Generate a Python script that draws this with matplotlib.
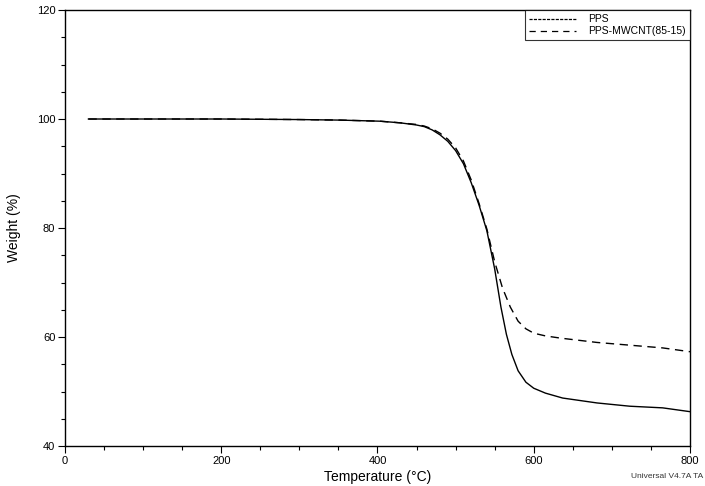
import matplotlib
matplotlib.use("Agg")
from matplotlib import pyplot as plt
from matplotlib.lines import Line2D
from matplotlib.ticker import MultipleLocator

# PPS
pps_temp = [30, 100, 200, 300, 352, 403, 429, 450, 460, 470, 480, 490, 500, 510,
            520, 530, 540, 550, 558, 565, 572, 580, 590, 600, 615, 637, 681, 723,
            765, 800]
pps_weight = [100.0, 100.0, 100.0, 99.9, 99.8, 99.6, 99.3, 98.9, 98.6, 98.0, 97.1,
              95.9, 94.2, 91.8, 88.3, 84.2, 79.5, 72.5, 65.5, 60.5, 56.8, 53.8,
              51.7, 50.6, 49.7, 48.8, 47.9, 47.3, 47.0, 46.3]

# PPS-MWCNT (85-15)
cnt_temp = [30, 100, 200, 300, 352, 403, 429, 450, 460, 470, 480, 490, 500, 510,
            520, 530, 540, 550, 560, 570, 580, 590, 600, 615, 634, 681, 723, 765,
            800]
cnt_weight = [100.0, 100.0, 100.0, 99.9, 99.8, 99.6, 99.3, 99.0, 98.7, 98.2, 97.4,
              96.3, 94.7, 92.3, 88.8, 84.5, 79.8, 73.8, 69.0, 65.5, 62.9, 61.5,
              60.7, 60.2, 59.8, 59.0, 58.5, 58.0, 57.3]

plt.rcParams["font.family"] = ["Liberation Sans", "DejaVu Sans"]

fig = plt.figure(figsize=(7.05, 4.86), dpi=100)
ax = fig.add_axes([0.0922, 0.0823, 0.8865, 0.8971])

ax.plot(pps_temp, pps_weight, color="black", linestyle="-", linewidth=1.0)
ax.plot(cnt_temp, cnt_weight, color="black", linestyle=(0, (6, 4)), linewidth=1.0)

ax.set_xlim(0, 800)
ax.set_ylim(40, 120)
ax.xaxis.set_major_locator(MultipleLocator(200))
ax.xaxis.set_minor_locator(MultipleLocator(50))
ax.yaxis.set_major_locator(MultipleLocator(20))
ax.yaxis.set_minor_locator(MultipleLocator(5))
ax.tick_params(which="major", length=5, width=0.8, labelsize=8, pad=2)
ax.tick_params(which="minor", length=3, width=0.8)
for s in ax.spines.values():
    s.set_linewidth(1.0)

ax.set_xlabel("Temperature (°C)", fontsize=10, labelpad=3)
ax.set_ylabel("Weight (%)", fontsize=10, labelpad=11)

handles = [
    Line2D([], [], color="black", linestyle=(0, (2.5, 1)), linewidth=0.9),
    Line2D([], [], color="black", linestyle=(0, (5, 4)), linewidth=0.9),
]
leg = ax.legend(handles, ["PPS", "PPS-MWCNT(85-15)"], loc="upper right",
                bbox_to_anchor=(1.0, 1.0), fontsize=7.5, frameon=True,
                fancybox=False, borderaxespad=0, handlelength=4.5,
                handletextpad=1.2, labelspacing=0.2, borderpad=0.4)
leg.get_frame().set_edgecolor("black")
leg.get_frame().set_linewidth(0.8)

fig.text(0.998, 0.012, "Universal V4.7A TA", ha="right", va="bottom",
         fontsize=6, color="#333333")

plt.savefig("out.png", dpi=100)
plt.close()
